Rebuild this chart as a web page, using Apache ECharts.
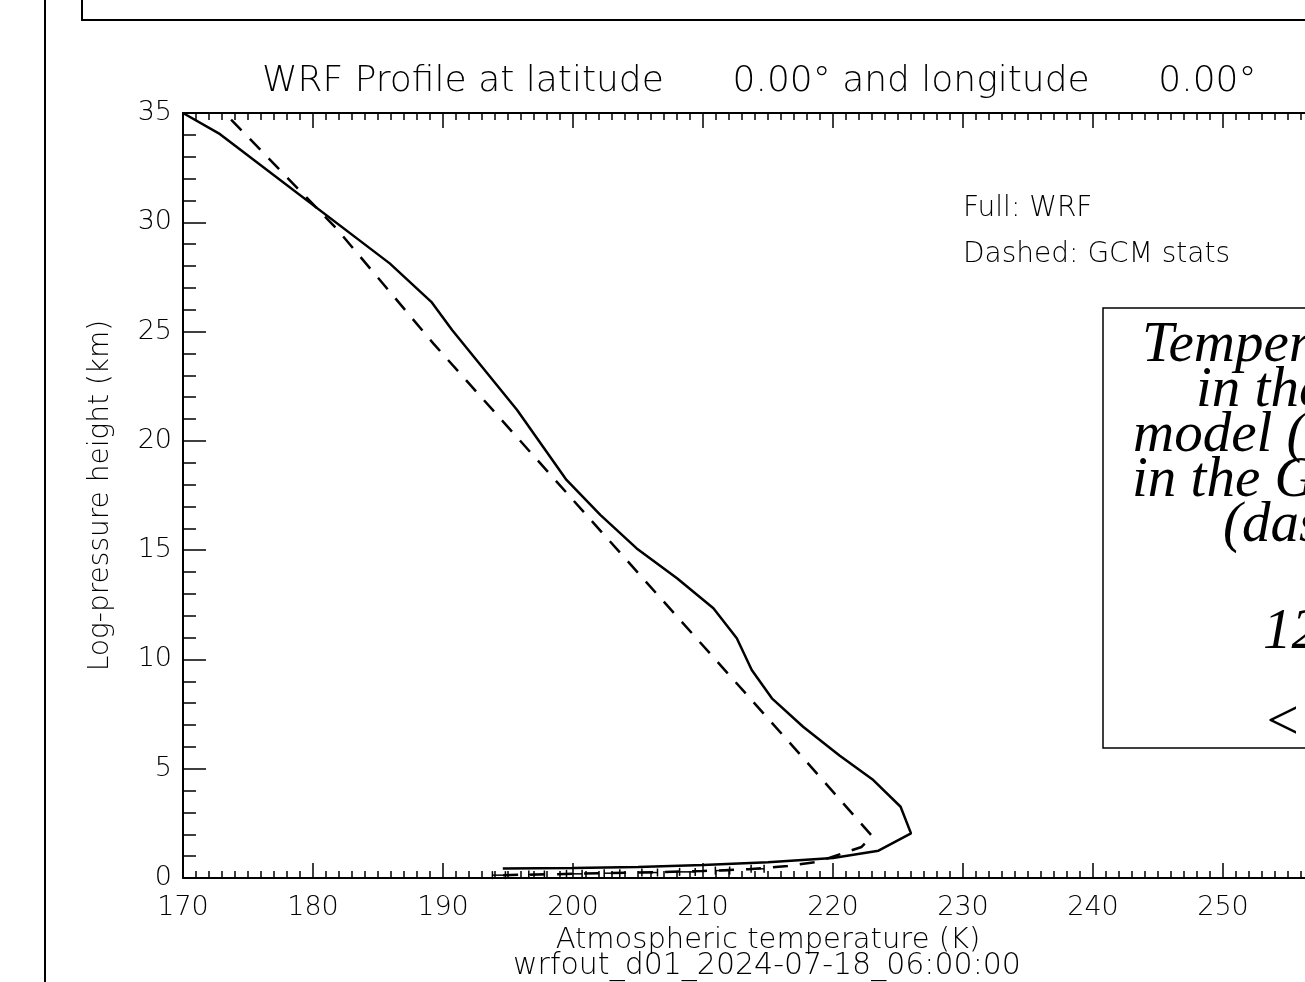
<!DOCTYPE html>
<html>
<head>
<meta charset="utf-8">
<script src="https://cdn.jsdelivr.net/npm/echarts@6/dist/echarts.min.js"></script>
<style>
  html, body { margin: 0; padding: 0; overflow: hidden; background: #fff; }
  #myChart { position: absolute; left: 0; top: 0; width: 1400px; height: 982px; }
</style>
</head>
<body>
<div id="myChart"></div>
<script>
// WRF profile (full line): temperature (K) and log-pressure height (km)
var wrfTemp   = [170.0, 172.85, 185.9, 189.1, 190.7, 195.7, 199.5, 202.1, 204.9, 208.0, 210.8, 212.6, 213.75, 215.3, 217.7, 220.5, 223.1, 225.2, 226.0, 223.5, 220.0, 215.0, 210.0, 205.0, 200.0, 194.6];
var wrfHeight = [35.0, 34.03, 28.12, 26.36, 25.07, 21.41, 18.21, 16.61, 15.08, 13.71, 12.34, 10.97, 9.52, 8.22, 6.92, 5.6, 4.48, 3.26, 2.04, 1.25, 0.92, 0.72, 0.6, 0.5, 0.46, 0.44];

// GCM stats (dashed line)
var gcmTemp   = [173.7, 181.8, 189.25, 216.95, 223.0, 222.2, 218.8, 216.5, 213.5, 210.0, 205.0, 200.0, 193.7];
var gcmHeight = [34.7, 29.72, 24.46, 6.0, 1.92, 1.42, 0.74, 0.55, 0.4, 0.32, 0.25, 0.19, 0.12];

// GCM error bars near the surface: centre T, height, half width (K)
var errTemp   = [194.3, 197.2, 200.1, 203.0, 205.9, 208.8, 211.5, 214.2];
var errHeight = [0.13, 0.16, 0.19, 0.22, 0.25, 0.28, 0.34, 0.42];
var errHalf   = [0.5, 0.6, 0.6, 0.6, 0.6, 0.6, 0.55, 0.5];

var tempTicks = [170, 180, 190, 200, 210, 220, 230, 240, 250, 260];
var heightTicks = [0, 5, 10, 15, 20, 25, 30, 35];

var nb = '\u00a0';
var titleText = 'WRF Profile at latitude' + nb.repeat(6) + '0.00\u00b0 and longitude' + nb.repeat(6) + '0.00\u00b0';
var fileText = 'wrfout_d01_2024-07-18_06:00:00';
var legendLines = ['Full: WRF', 'Dashed: GCM stats'];
var boxLines = ['Temperature (K)', 'in the WRF', 'model (full) and', 'in the GCM stats', '(dashed)', '12:00 LT', '< mean >'];

var hershey = '"DejaVu Sans", sans-serif';
var serifIt = '"Liberation Serif", "DejaVu Serif", serif';

function pairs(xs, ys) {
  var out = [];
  for (var i = 0; i < xs.length; i++) out.push([xs[i], ys[i]]);
  return out;
}

var myChart = echarts.init(document.getElementById('myChart'));

var boxX = [1142, 1196, 1133, 1132, 1223, 1263, 1263];
var boxY = [363, 408, 453, 498, 543, 650, 741];
var graphics = [
  // page frame pieces
  { type: 'line', shape: { x1: 45, y1: 0, x2: 45, y2: 982 }, style: { stroke: '#000', lineWidth: 2 } },
  { type: 'polyline', shape: { points: [[82, 0], [82, 20], [1400, 20]] }, style: { stroke: '#000', lineWidth: 2, fill: null } },
  // annotation box
  { type: 'rect', shape: { x: 1103, y: 308, width: 400, height: 440 }, style: { stroke: '#000', lineWidth: 1.5, fill: null } },
  { type: 'text', x: 262, y: 82, style: { text: titleText, font: '200 36px ' + hershey, fill: '#000', verticalAlign: 'middle', align: 'left' } },
  { type: 'text', x: 767, y: 966, style: { text: fileText, font: '200 30px ' + hershey, fill: '#000', verticalAlign: 'middle', align: 'center' } },
  { type: 'text', x: 963, y: 209, style: { text: legendLines[0], font: '200 28px ' + hershey, fill: '#000', verticalAlign: 'middle', align: 'left' } },
  { type: 'text', x: 963, y: 255, style: { text: legendLines[1], font: '200 28px ' + hershey, fill: '#000', verticalAlign: 'middle', align: 'left' } }
];
for (var i = 0; i < boxLines.length; i++) {
  graphics.push({
    type: 'text', x: boxX[i], y: boxY[i] + 12,
    style: { text: boxLines[i], font: 'italic 57px ' + serifIt, fill: '#000', verticalAlign: 'bottom', align: 'left' }
  });
}

var axisLabelStyle = { color: '#000', fontSize: 27, fontFamily: hershey, fontWeight: 200 };

myChart.setOption({
  animation: false,
  backgroundColor: '#fff',
  grid: { left: 183, top: 113, width: 1170, height: 765 },
  xAxis: [{
    type: 'value', min: 170, max: 260, interval: 10, position: 'bottom',
    axisLine: { show: true, onZero: false, lineStyle: { color: '#000', width: 2 } },
    axisTick: { show: true, inside: true, length: 15, lineStyle: { color: '#000', width: 1.5 } },
    minorTick: { show: true, splitNumber: 10, length: 7, lineStyle: { color: '#000', width: 1.5 } },
    splitLine: { show: false },
    axisLabel: Object.assign({ margin: 16, formatter: function (v) { return tempTicks.indexOf(v) >= 0 ? String(v) : ''; } }, axisLabelStyle),
    name: 'Atmospheric temperature (K)', nameLocation: 'middle', nameGap: 46,
    nameTextStyle: { color: '#000', fontSize: 29, fontFamily: hershey, fontWeight: 200 }
  }, {
    type: 'value', min: 170, max: 260, interval: 10, position: 'top',
    axisLine: { show: true, onZero: false, lineStyle: { color: '#000', width: 2 } },
    axisTick: { show: true, inside: true, length: 15, lineStyle: { color: '#000', width: 1.5 } },
    minorTick: { show: true, splitNumber: 10, length: 7, lineStyle: { color: '#000', width: 1.5 } },
    splitLine: { show: false }, axisLabel: { show: false }
  }],
  yAxis: [{
    type: 'value', min: 0, max: 35, interval: 5, position: 'left',
    axisLine: { show: true, onZero: false, lineStyle: { color: '#000', width: 2 } },
    axisTick: { show: true, inside: true, length: 23, lineStyle: { color: '#000', width: 1.5 } },
    minorTick: { show: true, splitNumber: 5, length: 13, lineStyle: { color: '#000', width: 1.5 } },
    splitLine: { show: false },
    axisLabel: Object.assign({ margin: 11, formatter: function (v) { return heightTicks.indexOf(v) >= 0 ? String(v) : ''; } }, axisLabelStyle),
    name: 'Log-pressure height (km)', nameLocation: 'middle', nameGap: 68, nameRotate: 90,
    nameTextStyle: { color: '#000', fontSize: 28, fontFamily: hershey, fontWeight: 200 }
  }, {
    type: 'value', min: 0, max: 35, interval: 5, position: 'right',
    axisLine: { show: true, onZero: false, lineStyle: { color: '#000', width: 2 } },
    axisTick: { show: true, inside: true, length: 23, lineStyle: { color: '#000', width: 1.5 } },
    minorTick: { show: true, splitNumber: 5, length: 13, lineStyle: { color: '#000', width: 1.5 } },
    splitLine: { show: false }, axisLabel: { show: false }
  }],
  graphic: graphics,
  series: [{
    name: 'WRF', type: 'line', xAxisIndex: 0, yAxisIndex: 0,
    data: pairs(wrfTemp, wrfHeight), showSymbol: false, symbol: 'none',
    lineStyle: { color: '#000', width: 2.5, type: 'solid' }
  }, {
    name: 'GCM stats', type: 'line', xAxisIndex: 0, yAxisIndex: 0,
    data: pairs(gcmTemp, gcmHeight), showSymbol: false, symbol: 'none',
    lineStyle: { color: '#000', width: 2.5, type: [15, 12] }
  }, {
    name: 'GCM spread', type: 'custom', xAxisIndex: 0, yAxisIndex: 0,
    encode: { x: 0, y: 1 },
    data: errTemp.map(function (t, i) { return [t, errHeight[i], errHalf[i]]; }),
    renderItem: function (params, api) {
      var t = api.value(0), z = api.value(1), h = api.value(2);
      var a = api.coord([t - h, z]);
      var b = api.coord([t + h, z]);
      var st = { stroke: '#000', lineWidth: 1.5 };
      return {
        type: 'group', children: [
          { type: 'line', shape: { x1: a[0], y1: a[1], x2: b[0], y2: b[1] }, style: st },
          { type: 'line', shape: { x1: a[0], y1: a[1] - 4, x2: a[0], y2: a[1] + 4 }, style: st },
          { type: 'line', shape: { x1: b[0], y1: b[1] - 4, x2: b[0], y2: b[1] + 4 }, style: st }
        ]
      };
    }
  }]
});
</script>
</body>
</html>
